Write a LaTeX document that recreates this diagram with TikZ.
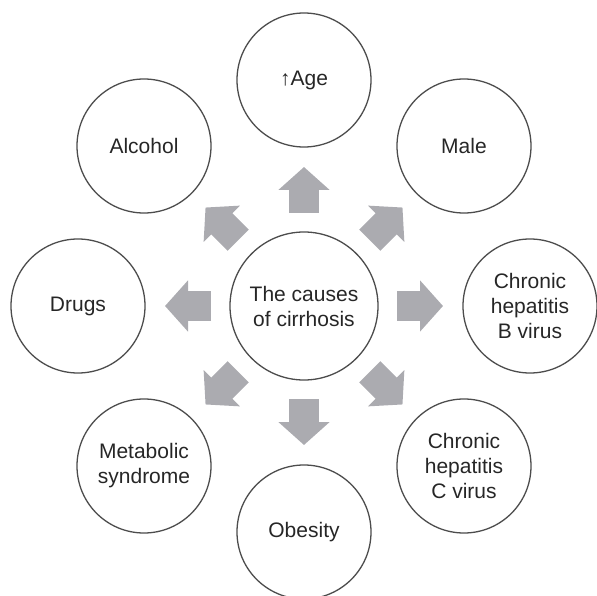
\documentclass[tikz,border=0pt]{standalone}
\usepackage{fontspec}
\setmainfont{Liberation Sans}
\usetikzlibrary{arrows.meta}
\definecolor{mgray}{rgb}{0.67, 0.67, 0.69}
\definecolor{mline}{rgb}{0.3, 0.3, 0.3}

\begin{document}
\begin{tikzpicture}[x=1pt, y=-1pt,
    factor/.style={circle, draw=mline, line width=1.3, minimum size=134pt, inner sep=0, outer sep=0, align=center, font=\fontsize{21}{25}\selectfont, text=black!85},
    hub/.style={factor, minimum size=148pt},
    push/.style={mgray, line width=30pt, shorten <=19pt, shorten >=20pt, -{Triangle[length=23pt, width=50pt]}}]
    \useasboundingbox (0, 0) rectangle (597, 596);

    \node [hub] (cause) at (304, 306) {The causes\\of cirrhosis};

    \node [factor] (age) at (304, 80) {↑Age};
    \node [factor] (male) at (464, 146) {Male};
    \node [factor] (hepb) at (530, 306) {Chronic\\hepatitis\\B virus};
    \node [factor] (hepc) at (464, 466) {Chronic\\hepatitis\\C virus};
    \node [factor] (obesity) at (304, 532) {Obesity};
    \node [factor] (metab) at (144, 466) {Metabolic\\syndrome};
    \node [factor] (drugs) at (78, 306) {Drugs};
    \node [factor] (alcohol) at (144, 146) {Alcohol};

    \foreach \f in {age, male, hepb, hepc, obesity, metab, drugs, alcohol}
      \draw [push] (cause) -- (\f);
  \end{tikzpicture}
\end{document}
